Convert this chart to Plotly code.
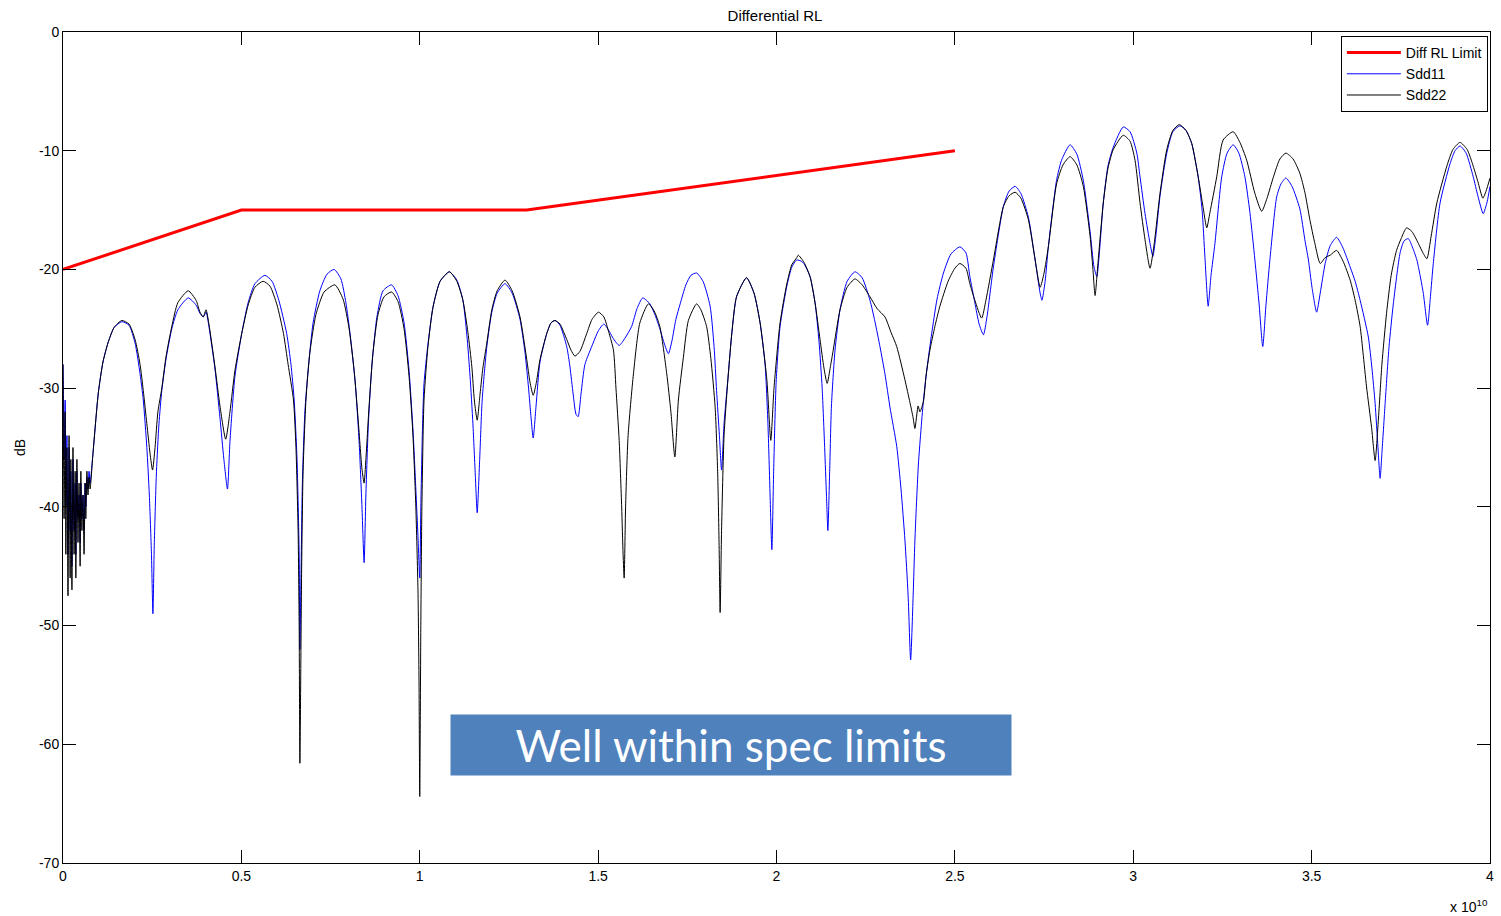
import plotly.graph_objects as go

# ---- data (frequency in GHz, magnitude in dB) ----
limit_ghz = [0, 5, 13, 25]
limit_db = [-20, -15, -15, -10]

sdd11_ghz = [
    0.00, 0.01, 0.03, 0.06, 0.08, 0.11, 0.14, 0.17, 0.20, 0.22, 0.25, 0.28, 0.31, 0.34, 0.36,
    0.39, 0.42, 0.45, 0.48, 0.50, 0.53, 0.56, 0.59, 0.62, 0.64, 0.67, 0.70, 0.73, 0.76,
    0.84, 0.99, 1.12, 1.26, 1.43, 1.65, 1.85, 2.02, 2.16, 2.25, 2.35, 2.42, 2.48, 2.52, 2.56,
    2.62, 2.69, 2.77, 2.89, 3.05, 3.22, 3.51, 3.73, 3.84, 3.93, 4.01, 4.09, 4.26, 4.40, 4.51,
    4.61, 4.68, 4.82, 5.01, 5.19, 5.38, 5.66, 5.86, 6.05, 6.27, 6.39, 6.48, 6.56, 6.62, 6.64,
    6.67, 6.71, 6.78, 6.87, 7.01, 7.20, 7.40, 7.60, 7.79, 7.93, 8.05, 8.19, 8.30, 8.38, 8.44,
    8.49, 8.56, 8.66, 8.80, 8.97, 9.21, 9.39, 9.56, 9.70, 9.81, 9.89, 9.95, 10.00, 10.03, 10.08,
    10.12, 10.23, 10.37, 10.57, 10.83, 11.04, 11.21, 11.32, 11.41, 11.49, 11.56, 11.61, 11.68,
    11.75, 11.88, 12.02, 12.17, 12.39, 12.59, 12.81, 12.95, 13.05, 13.12, 13.18, 13.26, 13.37,
    13.56, 13.68, 13.79, 13.93, 14.12, 14.21, 14.30, 14.38, 14.44, 14.52, 14.63, 14.86, 15.00,
    15.16, 15.33, 15.42, 15.59, 15.75, 15.94, 16.09, 16.25, 16.45, 16.59, 16.73, 16.85, 16.97,
    17.07, 17.18, 17.30, 17.46, 17.60, 17.76, 17.94, 18.14, 18.25, 18.32, 18.40, 18.46, 18.53,
    18.65, 18.75, 18.88, 19.16, 19.37, 19.54, 19.68, 19.76, 19.82, 19.87, 19.92, 19.99, 20.10,
    20.29, 20.43, 20.57, 20.74, 20.94, 21.08, 21.19, 21.28, 21.35, 21.40, 21.44, 21.49, 21.54,
    21.64, 21.78, 21.98, 22.20, 22.40, 22.62, 22.76, 22.90, 23.04, 23.18, 23.37, 23.49, 23.60,
    23.69, 23.76, 23.83, 23.88, 23.98, 24.12, 24.22, 24.35, 24.50, 24.68, 24.89, 25.14, 25.31,
    25.42, 25.56, 25.68, 25.80, 25.90, 26.08, 26.36, 26.52, 26.69, 26.85, 27.06, 27.25, 27.39,
    27.44, 27.53, 27.62, 27.85, 27.99, 28.23, 28.42, 28.60, 28.79, 28.90, 28.98, 29.04, 29.16,
    29.29, 29.44, 29.72, 29.91, 30.10, 30.19, 30.33, 30.47, 30.55, 30.64, 30.75, 30.94, 31.11,
    31.31, 31.48, 31.64, 31.82, 31.93, 32.01, 32.10, 32.18, 32.29, 32.48, 32.63, 32.80, 32.96,
    33.13, 33.27, 33.41, 33.53, 33.63, 33.72, 33.83, 34.02, 34.14, 34.28, 34.45, 34.67, 34.81,
    34.91, 35.01, 35.14, 35.24, 35.38, 35.52, 35.70, 35.88, 36.08, 36.22, 36.36, 36.59, 36.69,
    36.78, 36.86, 36.92, 36.97, 37.06, 37.17, 37.29, 37.48, 37.59, 37.71, 37.81, 37.95, 38.04,
    38.13, 38.25, 38.33, 38.41, 38.60, 38.88, 39.02, 39.16, 39.33, 39.53, 39.66, 39.81, 39.92,
    40.00,
]
sdd11_db = [
    -28.0, -30.0, -36.0, -31.0, -40.0, -34.0, -44.0, -35.0, -42.0, -37.0, -45.0, -36.0, -42.0,
    -38.0, -44.0, -37.0, -41.0, -39.0, -43.0, -38.0, -41.0, -39.0, -42.0, -38.0, -40.0, -37.5,
    -38.5, -37.0, -38.0,
    -35.5, -30.4, -27.8, -26.2, -24.9, -24.4, -24.7, -26.2, -28.8, -31.0, -35.0, -39.0, -44.0,
    -49.0, -43.0, -37.0, -33.0, -30.2, -27.5, -25.0, -23.4, -22.4, -23.0, -23.7, -24.0, -23.6,
    -24.8, -28.4, -32.5, -36.0, -38.5, -34.5, -29.0, -25.4, -22.8, -21.2, -20.5, -21.0, -22.6,
    -25.4, -28.0, -31.0, -36.0, -44.0, -52.0, -46.0, -38.0, -32.0, -28.5, -24.5, -21.8, -20.4,
    -20.0, -20.8, -22.8, -25.5, -29.5, -34.5, -40.0, -44.7, -39.0, -33.0, -28.0, -24.0, -21.8,
    -21.3, -22.2, -24.5, -28.5, -33.5, -38.5, -42.5, -46.0, -40.0, -33.0, -29.6, -26.3, -23.2,
    -21.0, -20.2, -20.9, -22.6, -25.5, -29.0, -33.0, -37.5, -40.5, -36.0, -31.0, -26.5, -23.6,
    -22.0, -21.2, -22.0, -24.2, -27.0, -30.0, -32.5, -34.2, -31.5, -27.8, -25.4, -24.5, -24.3,
    -24.7, -26.5, -28.2, -30.5, -32.2, -32.4, -30.5, -28.0, -26.2, -25.2, -24.6, -25.3, -25.8,
    -26.4, -25.8, -24.8, -23.3, -22.4, -22.9, -23.8, -25.0, -26.2, -27.1, -26.0, -24.2, -22.9,
    -21.3, -20.5, -20.3, -21.0, -23.1, -26.5, -30.2, -34.0, -36.9, -33.0, -28.8, -25.3, -22.3,
    -20.7, -22.0, -24.5, -28.0, -33.0, -39.0, -43.6, -37.0, -29.5, -24.8, -21.4, -19.8, -19.2,
    -19.4, -20.6, -22.8, -26.0, -30.0, -35.0, -39.0, -42.0, -37.0, -31.5, -26.8, -23.4, -21.0,
    -20.2, -20.7, -22.6, -24.4, -26.5, -28.8, -31.6, -34.9, -38.5, -42.8, -47.5, -52.9, -47.5,
    -42.8, -36.3, -31.0, -28.3, -25.4, -22.5, -20.3, -18.7, -18.1, -18.6, -20.6, -22.8, -24.6,
    -25.5, -24.0, -19.8, -14.7, -13.4, -13.0, -13.6, -15.6, -19.2, -22.0, -22.6, -21.0, -18.1,
    -12.5, -10.8, -9.5, -10.3, -12.5, -16.8, -19.8, -20.6, -19.0, -14.4, -11.3, -9.7, -8.0,
    -8.4, -10.2, -12.2, -15.3, -17.8, -18.9, -17.0, -13.8, -10.2, -8.4, -7.9, -8.3, -9.4,
    -12.2, -15.0, -19.0, -23.1, -20.5, -17.8, -12.2, -10.2, -9.5, -10.2, -12.2, -15.2, -19.2,
    -23.0, -26.5, -23.0, -19.2, -13.9, -12.8, -12.3, -13.0, -14.9, -17.5, -19.2, -21.5, -23.6,
    -22.0, -19.5, -18.0, -17.3, -18.2, -19.8, -21.0, -22.6, -25.7, -28.3, -31.3, -35.0, -37.6,
    -35.5, -31.3, -26.5, -22.9, -18.6, -17.6, -17.4, -18.0, -19.2, -20.5, -22.0, -24.7, -22.3,
    -19.5, -14.4, -11.1, -10.0, -9.6, -10.2, -12.2, -13.8, -15.3, -14.3, -13.0,
]

sdd22_ghz = [
    0.00, 0.01, 0.03, 0.06, 0.08, 0.11, 0.14, 0.17, 0.20, 0.22, 0.25, 0.28, 0.31, 0.34, 0.36,
    0.39, 0.42, 0.45, 0.48, 0.50, 0.53, 0.56, 0.59, 0.62, 0.64, 0.67, 0.70, 0.73, 0.76,
    0.84, 0.99, 1.12, 1.26, 1.43, 1.65, 1.85, 2.02, 2.16, 2.25, 2.35, 2.44, 2.51, 2.58, 2.66,
    2.77, 2.89, 3.05, 3.22, 3.51, 3.73, 3.84, 3.93, 4.01, 4.09, 4.26, 4.40, 4.56, 4.68, 4.82,
    5.01, 5.19, 5.38, 5.61, 5.80, 6.00, 6.18, 6.31, 6.46, 6.53, 6.59, 6.62, 6.64, 6.69, 6.73,
    6.81, 6.92, 7.09, 7.32, 7.62, 7.85, 8.02, 8.16, 8.27, 8.38, 8.44, 8.49, 8.58, 8.69, 8.83,
    9.00, 9.21, 9.39, 9.56, 9.70, 9.81, 9.89, 9.95, 9.98, 10.00, 10.03, 10.06, 10.12, 10.23,
    10.37, 10.57, 10.83, 11.04, 11.21, 11.35, 11.46, 11.53, 11.61, 11.69, 11.77, 11.88, 12.02,
    12.17, 12.39, 12.59, 12.81, 13.00, 13.09, 13.18, 13.27, 13.37, 13.56, 13.68, 13.79, 13.93,
    14.12, 14.24, 14.35, 14.49, 14.68, 14.83, 15.01, 15.16, 15.30, 15.43, 15.50, 15.59, 15.66,
    15.70, 15.73, 15.77, 15.84, 15.99, 16.17, 16.41, 16.57, 16.73, 16.92, 17.04, 17.15, 17.25,
    17.39, 17.53, 17.76, 17.88, 18.04, 18.16, 18.28, 18.35, 18.39, 18.42, 18.46, 18.53, 18.65,
    18.75, 18.88, 19.16, 19.37, 19.54, 19.73, 19.84, 19.93, 20.10, 20.29, 20.43, 20.57, 20.61,
    20.77, 20.94, 21.08, 21.22, 21.33, 21.42, 21.51, 21.59, 21.78, 21.98, 22.20, 22.40, 22.62,
    22.82, 23.04, 23.21, 23.37, 23.60, 23.74, 23.83, 23.88, 23.97, 24.02, 24.12, 24.19, 24.30,
    24.44, 24.58, 24.81, 25.00, 25.14, 25.31, 25.42, 25.56, 25.75, 25.87, 26.08, 26.36, 26.52,
    26.69, 26.85, 27.06, 27.25, 27.39, 27.50, 27.62, 27.85, 28.03, 28.23, 28.42, 28.60, 28.79,
    28.87, 28.93, 29.01, 29.16, 29.29, 29.44, 29.72, 29.91, 30.05, 30.19, 30.33, 30.47, 30.58,
    30.75, 30.94, 31.11, 31.29, 31.48, 31.64, 31.82, 31.96, 32.06, 32.15, 32.34, 32.52, 32.80,
    32.99, 33.18, 33.41, 33.60, 33.75, 33.93, 34.11, 34.28, 34.48, 34.67, 34.81, 34.95, 35.09,
    35.24, 35.38, 35.52, 35.70, 35.88, 36.08, 36.22, 36.36, 36.44, 36.54, 36.68, 36.78, 36.87,
    36.97, 37.10, 37.23, 37.38, 37.51, 37.66, 37.81, 37.99, 38.12, 38.23, 38.35, 38.51, 38.79,
    38.96, 39.16, 39.36, 39.53, 39.66, 39.80, 39.89, 40.00,
]
sdd22_db = [
    -28.0, -33.0, -41.0, -32.0, -44.0, -35.0, -47.5, -34.0, -46.0, -36.0, -47.0, -35.0, -44.0,
    -37.0, -46.0, -36.0, -43.0, -38.0, -45.0, -37.0, -42.0, -39.0, -44.0, -38.0, -41.0, -37.0,
    -39.0, -37.5, -38.5,
    -35.5, -30.4, -27.8, -26.2, -24.9, -24.3, -24.6, -25.9, -28.0, -30.2, -33.0, -35.5, -36.9,
    -35.0, -32.0, -30.0, -27.3, -24.8, -22.8, -21.8, -22.6, -23.6, -24.0, -23.4, -24.6, -28.2,
    -31.5, -34.3, -32.0, -28.5, -25.4, -23.0, -21.5, -21.0, -21.4, -23.0, -25.4, -28.0, -31.0,
    -35.0, -42.0, -50.0, -61.6, -45.0, -37.0, -31.0, -27.0, -23.8, -21.9, -21.3, -22.5, -25.0,
    -28.5, -32.5, -36.8, -38.0, -36.0, -31.5, -27.0, -23.8, -22.3, -21.9, -22.7, -25.0, -29.0,
    -34.0, -40.0, -47.0, -55.0, -64.4, -50.0, -40.0, -31.0, -26.5, -23.2, -21.0, -20.2, -21.0,
    -22.6, -25.3, -28.2, -31.0, -32.7, -30.5, -28.3, -26.2, -23.4, -21.8, -20.9, -21.8, -24.0,
    -27.6, -29.5, -30.6, -29.5, -27.6, -25.4, -24.5, -24.3, -24.6, -25.9, -26.8, -27.3, -26.9,
    -25.4, -24.2, -23.6, -24.0, -25.3, -26.8, -30.0, -34.4, -40.0, -44.0, -46.0, -40.0, -34.0,
    -28.8, -24.5, -22.9, -23.5, -24.8, -28.7, -32.0, -35.8, -31.0, -27.4, -24.3, -22.9, -23.4,
    -24.8, -27.5, -31.6, -37.0, -43.0, -48.9, -42.0, -34.0, -28.8, -25.3, -22.3, -20.7, -22.0,
    -24.5, -29.3, -34.4, -30.0, -24.5, -21.2, -19.6, -19.0, -18.8, -19.4, -20.6, -22.8, -25.9,
    -28.3, -29.6, -28.2, -26.8, -23.4, -21.5, -20.8, -21.3, -22.3, -23.3, -24.0, -25.3, -26.5,
    -29.3, -31.2, -32.5, -33.4, -31.5, -32.0, -31.1, -29.0, -26.8, -24.8, -23.1, -21.0, -19.9,
    -19.5, -19.9, -21.2, -22.6, -24.1, -22.6, -19.2, -14.7, -13.8, -13.5, -14.0, -15.8, -19.2,
    -21.5, -20.3, -18.1, -12.8, -11.2, -10.5, -11.2, -13.0, -17.2, -20.0, -22.2, -19.5, -14.4,
    -11.5, -9.9, -8.7, -9.2, -10.8, -14.4, -17.5, -19.9, -18.0, -13.6, -9.9, -8.3, -7.8,
    -8.3, -9.4, -12.2, -14.8, -16.5, -15.2, -12.2, -9.1, -8.4, -9.3, -10.8, -13.6, -15.1,
    -14.0, -12.2, -10.7, -10.2, -10.7, -11.9, -13.5, -15.8, -17.8, -19.5, -19.0, -18.8, -18.4,
    -19.3, -20.9, -22.6, -24.8, -27.0, -29.9, -33.3, -36.1, -32.7, -28.0, -23.7, -20.5, -18.4,
    -17.4, -16.5, -16.8, -17.8, -18.6, -19.1, -17.2, -14.4, -11.3, -9.9, -9.3, -9.9, -11.3,
    -12.6, -14.0, -13.4, -12.3,
]

# axis ticks
x_tick_vals = [0, 5e9, 10e9, 15e9, 20e9, 25e9, 30e9, 35e9, 40e9]
x_tick_text = ["0", "0.5", "1", "1.5", "2", "2.5", "3", "3.5", "4"]
y_tick_vals = [0, -10, -20, -30, -40, -50, -60, -70]
y_tick_text = ["0", "-10", "-20", "-30", "-40", "-50", "-60", "-70"]

FONT = "Liberation Sans, Arial, sans-serif"


def to_hz(ghz):
    return [g * 1e9 for g in ghz]


fig = go.Figure()
fig.add_trace(go.Scatter(
    x=to_hz(limit_ghz), y=limit_db, mode="lines", name="Diff RL Limit",
    line=dict(color="#FF0000", width=3),
))
fig.add_trace(go.Scatter(
    x=to_hz(sdd11_ghz), y=sdd11_db, mode="lines", name="Sdd11",
    line=dict(color="#0000FF", width=1, shape="spline", smoothing=0.6),
))
fig.add_trace(go.Scatter(
    x=to_hz(sdd22_ghz), y=sdd22_db, mode="lines", name="Sdd22",
    line=dict(color="#000000", width=1, shape="spline", smoothing=0.6),
))

axis_common = dict(
    showline=True, linecolor="black", linewidth=1, mirror="allticks",
    ticks="inside", ticklen=13, tickwidth=1, tickcolor="black",
    showgrid=False, zeroline=False,
    tickfont=dict(family=FONT, size=14, color="black"),
)

fig.update_xaxes(
    range=[0, 4e10], tickvals=x_tick_vals, ticktext=x_tick_text, **axis_common
)
fig.update_yaxes(
    range=[-70, 0], tickvals=y_tick_vals, ticktext=y_tick_text,
    title=dict(text="dB", font=dict(family=FONT, size=14, color="black"), standoff=10),
    **axis_common
)

fig.update_layout(
    width=1501, height=916,
    margin=dict(l=63, r=7, t=32, b=53),
    paper_bgcolor="white", plot_bgcolor="white",
    font=dict(family=FONT, size=14, color="black"),
    title=dict(
        text="Differential RL", x=0.5163, xanchor="center",
        y=1 - 16 / 916, yref="container", yanchor="middle",
        font=dict(family=FONT, size=15, color="black"),
    ),
    showlegend=True,
    legend=dict(
        x=0.9985, y=0.9952, xanchor="right", yanchor="top",
        bgcolor="white", bordercolor="black", borderwidth=1,
        font=dict(family=FONT, size=14, color="black"),
        itemwidth=54, tracegroupgap=0,
    ),
    annotations=[
        dict(
            text="Well within spec limits", xref="paper", yref="paper",
            x=0.4681, y=0.142, xanchor="center", yanchor="middle",
            showarrow=False, width=560, height=60, bgcolor="#4F81BD",
            borderpad=0, font=dict(family="Lato, Open Sans, sans-serif", size=44, color="white"),
        ),
        dict(
            text="x 10<sup>10</sup>", xref="paper", yref="paper",
            x=1.0, y=-0.052, xanchor="right", yanchor="middle",
            showarrow=False, font=dict(family=FONT, size=14, color="black"),
        ),
    ],
)

fig.write_html("out.html")
